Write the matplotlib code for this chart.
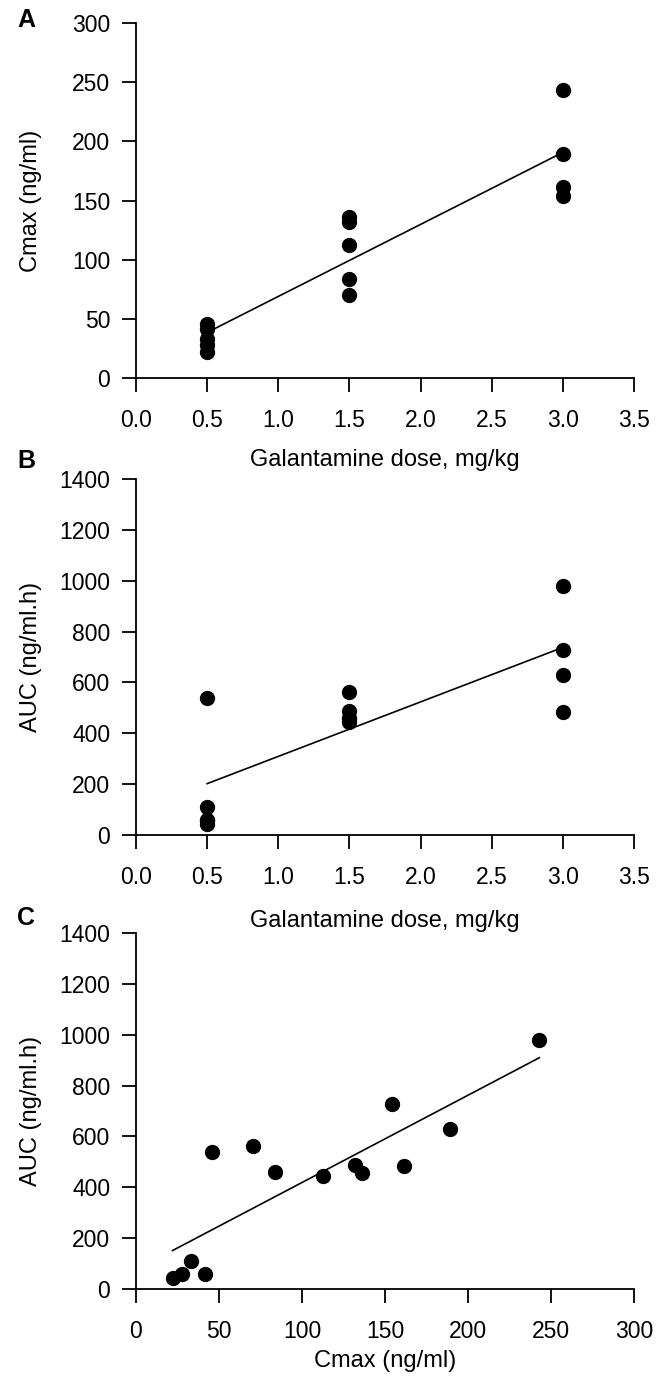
import numpy as np
import matplotlib
matplotlib.use('Agg')
import matplotlib.pyplot as plt

plt.rcParams['font.family'] = ['Liberation Sans', 'DejaVu Sans']

# dose groups (mg/kg)
dose = [0.5, 0.5, 0.5, 0.5, 0.5,
        1.5, 1.5, 1.5, 1.5, 1.5,
        3.0, 3.0, 3.0, 3.0]
# Cmax (ng/ml) per animal
cmax = [22, 27.5, 33, 41.7, 45.5,
        70.3, 84, 112.5, 132, 136,
        154, 161.5, 189, 243]
# AUC (ng/ml.h) per animal, same order as cmax
auc = [42, 59, 112, 58, 539,
       564, 459, 446, 489, 456,
       727, 482, 630, 979]

dose_ticks = [0.0, 0.5, 1.0, 1.5, 2.0, 2.5, 3.0, 3.5]
cmax_ticks = [0, 50, 100, 150, 200, 250, 300]
auc_ticks = [0, 200, 400, 600, 800, 1000, 1200, 1400]

W, H = 658, 1391
fig = plt.figure(figsize=(W / 100, H / 100), dpi=100)

left, width = 136 / W, 498 / W
ax_a = fig.add_axes([left, 1 - 378 / H, width, 355 / H])
ax_b = fig.add_axes([left, 1 - 835 / H, width, 356 / H])
ax_c = fig.add_axes([left, 1 - 1289 / H, width, 356 / H])


def style(ax, xt, yt, xlab, ylab, xlab_y):
    for s in ['top', 'right']:
        ax.spines[s].set_visible(False)
    for s in ['left', 'bottom']:
        ax.spines[s].set_linewidth(1.3)
    ax.set_xlim(xt[0], xt[-1])
    ax.set_ylim(yt[0], yt[-1])
    ax.set_xticks(xt)
    ax.set_yticks(yt)
    ax.tick_params(direction='out', length=10, width=1.3, labelsize=16.5)
    ax.tick_params(axis='x', pad=12)
    ax.tick_params(axis='y', pad=8.5)
    ax.set_xlabel(xlab, fontsize=17)
    ax.set_ylabel(ylab, fontsize=17)
    ax.xaxis.set_label_coords(0.5, xlab_y)
    ax.yaxis.set_label_coords(-0.188, 0.5)


def fit_line(ax, x, y):
    k, b = np.polyfit(x, y, 1)
    xs = np.array([min(x), max(x)])
    ax.plot(xs, k * xs + b, color='black', lw=1.2)


# A
ax_a.plot(dose, cmax, 'o', color='black', markersize=10, clip_on=False)
fit_line(ax_a, dose, cmax)
ax_a.set_xticklabels(['%.1f' % t for t in dose_ticks])
style(ax_a, dose_ticks, cmax_ticks, 'Galantamine dose, mg/kg', 'Cmax (ng/ml)', -0.2)

# B
ax_b.plot(dose, auc, 'o', color='black', markersize=10, clip_on=False)
fit_line(ax_b, dose, auc)
ax_b.set_xticklabels(['%.1f' % t for t in dose_ticks])
style(ax_b, dose_ticks, auc_ticks, 'Galantamine dose, mg/kg', 'AUC (ng/ml.h)', -0.211)

# C
ax_c.plot(cmax, auc, 'o', color='black', markersize=10, clip_on=False)
fit_line(ax_c, cmax, auc)
style(ax_c, cmax_ticks, auc_ticks, 'Cmax (ng/ml)', 'AUC (ng/ml.h)', -0.171)

for lab, yy in [('A', 20), ('B', 461), ('C', 918)]:
    fig.text(26 / W, 1 - yy / H, lab, fontsize=18, fontweight='bold',
             ha='center', va='center')

fig.savefig('out.png', dpi=100)
